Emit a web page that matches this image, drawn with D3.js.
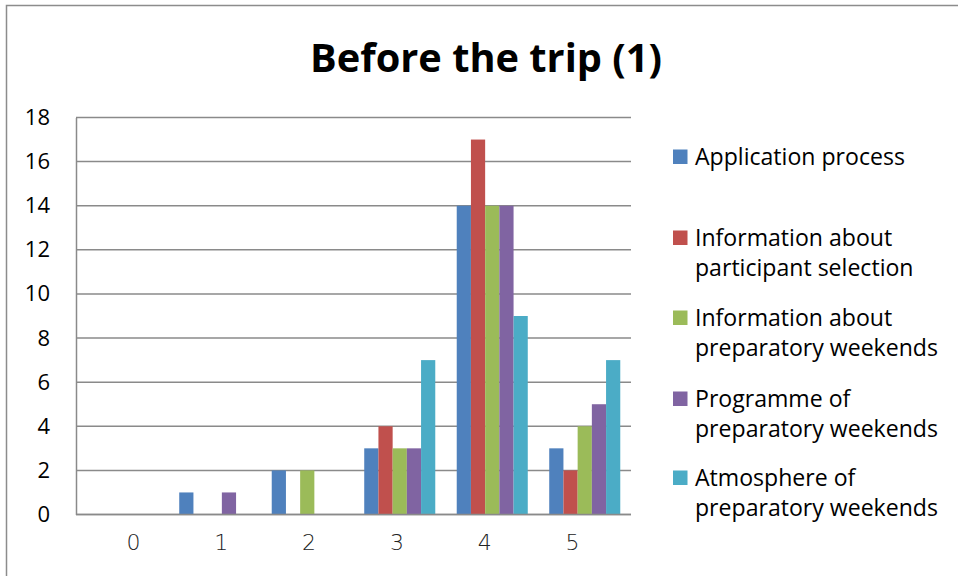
<!DOCTYPE html>
<html>
<head>
<meta charset="utf-8">
<script src="https://cdn.jsdelivr.net/npm/d3@7"></script>
<style>
  html, body { margin: 0; padding: 0; background: #fff; }
  svg { display: block; }
</style>
</head>
<body>
<svg id="chart" width="958" height="576"></svg>
<script>
// Rating scale categories and one value list per survey item
const categories = ["0", "1", "2", "3", "4", "5"];
const seriesNames = [
  "Application process",
  "Information about participant selection",
  "Information about preparatory weekends",
  "Programme of preparatory weekends",
  "Atmosphere of preparatory weekends"
];
const applicationProcess = [0, 1, 2, 3, 14, 3];
const participantSelection = [0, 0, 0, 4, 17, 2];
const infoWeekends = [0, 0, 2, 3, 14, 4];
const programmeWeekends = [0, 1, 0, 3, 14, 5];
const atmosphereWeekends = [0, 0, 0, 7, 9, 7];
const yTicks = [0, 2, 4, 6, 8, 10, 12, 14, 16, 18];
const legendLines = [
  ["Application process"],
  ["Information about", "participant selection"],
  ["Information about", "preparatory weekends"],
  ["Programme of", "preparatory weekends"],
  ["Atmosphere of", "preparatory weekends"]
];
const colors = ["#4F81BD", "#C0504D", "#9BBB59", "#8064A2", "#4BACC6"];

const seriesValues = [applicationProcess, participantSelection, infoWeekends, programmeWeekends, atmosphereWeekends];

const svg = d3.select("#chart");
const font = "'Open Sans', 'Noto Sans', sans-serif";

// chart frame
svg.append("rect")
  .attr("x", 6.5).attr("y", 5.5)
  .attr("width", 1000).attr("height", 1000)
  .attr("fill", "#fff").attr("stroke", "#8c8c8c").attr("stroke-width", 1.5);

// title
const title = svg.append("text")
  .attr("x", 486).attr("y", 72)
  .attr("text-anchor", "middle")
  .attr("font-family", font).attr("font-weight", 700)
  .attr("font-size", 36).attr("fill", "#000")
  .text("Before the trip (1)");
{
  const w = title.node().getComputedTextLength();
  title.attr("font-size", 36 * 352 / w);
}

const plot = { left: 76, right: 631, top: 117.5, bottom: 514.5 };

const x0 = d3.scaleBand().domain(categories).range([plot.left, plot.right]).paddingInner(0.232).paddingOuter(0.116);
const x1 = d3.scaleBand().domain(d3.range(seriesNames.length)).range([0, x0.bandwidth()]);
const y = d3.scaleLinear().domain([0, 18]).range([plot.bottom, plot.top]);
// category labels sit on a slightly narrower spread than the bar groups
const xLabel = d3.scalePoint().domain(categories).range([133, 572]);

// gridlines
svg.append("g").selectAll("line").data(yTicks).join("line")
  .attr("x1", plot.left).attr("x2", plot.right)
  .attr("y1", d => y(d)).attr("y2", d => y(d))
  .attr("stroke", "#8a8a8a").attr("stroke-width", 1.5);

// y axis
const yAxis = svg.append("g")
  .attr("transform", `translate(${plot.left},0)`)
  .call(d3.axisLeft(y).tickValues(yTicks).tickSize(0).tickPadding(26));
yAxis.select(".domain").attr("stroke", "#8a8a8a").attr("stroke-width", 1.5);
yAxis.selectAll("text")
  .attr("font-family", font).attr("font-size", 22).attr("fill", "#000");

// bars
const groups = svg.append("g").selectAll("g").data(categories).join("g")
  .attr("transform", c => `translate(${x0(c)},0)`);
groups.selectAll("rect")
  .data((c, i) => seriesValues.map((vals, s) => ({ s, v: vals[i] })))
  .join("rect")
  .filter(d => d.v > 0)
  .attr("x", d => x1(d.s))
  .attr("width", x1.bandwidth())
  .attr("y", d => y(d.v))
  .attr("height", d => y(0) - y(d.v))
  .attr("fill", d => colors[d.s]);

// x axis line
svg.append("line")
  .attr("x1", plot.left).attr("x2", plot.right)
  .attr("y1", plot.bottom).attr("y2", plot.bottom)
  .attr("stroke", "#8a8a8a").attr("stroke-width", 1.5);

// x category labels
svg.append("g")
  .attr("transform", `translate(0,${plot.bottom})`)
  .call(d3.axisBottom(xLabel).tickSize(0).tickPadding(20))
  .call(g => g.select(".domain").remove())
  .selectAll("text")
  .attr("font-family", "'DejaVu Sans', sans-serif").attr("font-weight", 300)
  .attr("font-size", 22).attr("fill", "#222");

// legend
const legendTop = [157, 238, 318, 399, 478];
const legend = svg.append("g").selectAll("g").data(seriesNames).join("g")
  .attr("transform", (d, i) => `translate(673,${legendTop[i]})`);
legend.append("rect")
  .attr("x", 0).attr("y", -7.5).attr("width", 14.5).attr("height", 14.5)
  .attr("fill", (d, i) => colors[i]);
const legendTexts = [];
legend.each(function (d, i) {
  const t = d3.select(this).append("text")
    .attr("font-family", font).attr("font-size", 21).attr("fill", "#000");
  legendLines[i].forEach((line, k) => {
    t.append("tspan").attr("x", 22).attr("y", k * 30).attr("dy", "0.35em").text(line);
  });
  legendTexts.push(t);
});
{
  const w = legendTexts[0].node().getComputedTextLength();
  const size = 21 * 210 / w;
  legendTexts.forEach(t => t.attr("font-size", size));
}
</script>
</body>
</html>
